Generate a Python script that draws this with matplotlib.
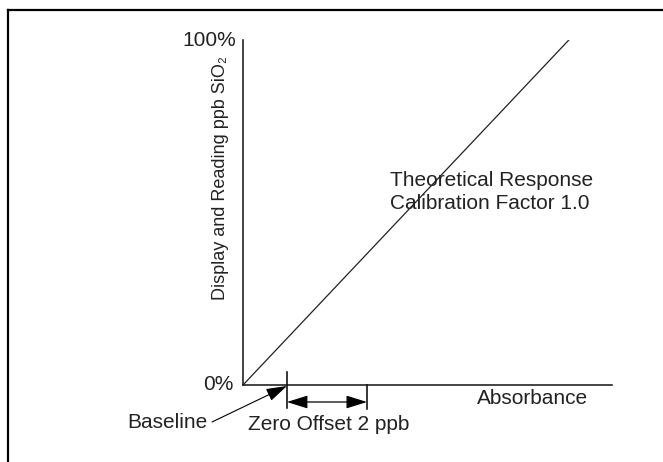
import matplotlib
matplotlib.use("Agg")
import matplotlib.pyplot as plt
from matplotlib.lines import Line2D

plt.rcParams['font.family'] = ['Liberation Sans', 'DejaVu Sans']

# Theoretical response: absorbance (arbitrary units) vs displayed reading (%)
response_x = [0.0, 0.883]
response_y = [0.0, 100.0]
baseline_x = 0.119          # absorbance at zero reading (baseline)
offset_end_x = 0.336        # end of the 2 ppb zero offset span
y_ticks = [0, 100]
y_tick_labels = ["0%", "100%"]

W, H = 663, 462
fig = plt.figure(figsize=(W / 100, H / 100), dpi=100)
fig.patch.set_facecolor('white')

# outer frame (left and top edges)
fig.add_artist(Line2D([8 / W, 8 / W], [0, 1 - 10 / H], transform=fig.transFigure,
                      color='black', lw=1.6, solid_capstyle='projecting'))
fig.add_artist(Line2D([8 / W, 1], [1 - 10 / H, 1 - 10 / H], transform=fig.transFigure,
                      color='black', lw=1.6, solid_capstyle='projecting'))

ax = fig.add_axes([243 / W, (H - 385) / H, 369 / W, 345 / H])
ax.set_xlim(0, 1)
ax.set_ylim(0, 100)
ax.patch.set_alpha(0)
for s in ['top', 'right']:
    ax.spines[s].set_visible(False)
for s in ['left', 'bottom']:
    ax.spines[s].set_linewidth(1.1)
    ax.spines[s].set_color('#111111')

txt = '#222222'
fs = 15
ax.set_xticks([])
ax.set_yticks(y_ticks)
ax.set_yticklabels(y_tick_labels, fontsize=fs, color=txt)
ax.tick_params(axis='y', length=0, pad=5)
for lbl in ax.get_yticklabels():
    lbl.set_verticalalignment('center')
ax.get_yticklabels()[0].set_x(-3 / 369)

ax.plot(response_x, response_y, color='#222222', lw=0.9)

xpp = 1 / 369    # data units per pixel (horizontal)
ypp = 100 / 345  # data units per pixel (vertical)

ax.text(-22 * xpp, 207 * ypp, "Display and Reading ppb SiO\u2082", fontsize=13,
        color=txt, rotation=90, ha='center', va='center', clip_on=False)

# baseline and offset tick marks
ax.plot([baseline_x, baseline_x], [13 * ypp, -23 * ypp], color='black', lw=1.1, clip_on=False)
ax.plot([offset_end_x, offset_end_x], [0, -24 * ypp], color='black', lw=1.1, clip_on=False)

head = 'head_length=0.8,head_width=0.25'
# double-headed offset arrow
ax.annotate('', xy=(baseline_x, -17 * ypp), xytext=(offset_end_x, -17 * ypp),
            arrowprops=dict(arrowstyle='<|-|>,' + head, color='black', lw=0.9,
                            mutation_scale=16, shrinkA=0, shrinkB=0),
            annotation_clip=False)

# baseline pointer
ax.annotate('', xy=(baseline_x, -1 * ypp), xytext=(-31 * xpp, -37 * ypp),
            arrowprops=dict(arrowstyle='-|>,' + head, color='black', lw=0.8,
                            mutation_scale=16, shrinkA=0, shrinkB=0),
            annotation_clip=False)

ax.text(-35 * xpp, -37 * ypp, "Baseline", fontsize=fs, color=txt,
        ha='right', va='center', clip_on=False)
ax.text(5 * xpp, -39 * ypp, "Zero Offset 2 ppb", fontsize=fs, color=txt,
        ha='left', va='center', clip_on=False)
ax.text(234 * xpp, -13 * ypp, "Absorbance", fontsize=fs, color=txt,
        ha='left', va='center', clip_on=False)
ax.text(147 * xpp, (385 - 192) * ypp, "Theoretical Response\nCalibration Factor 1.0",
        fontsize=fs, color=txt, ha='left', va='center', linespacing=1.25)

fig.savefig('out.png', dpi=100, facecolor='white')
